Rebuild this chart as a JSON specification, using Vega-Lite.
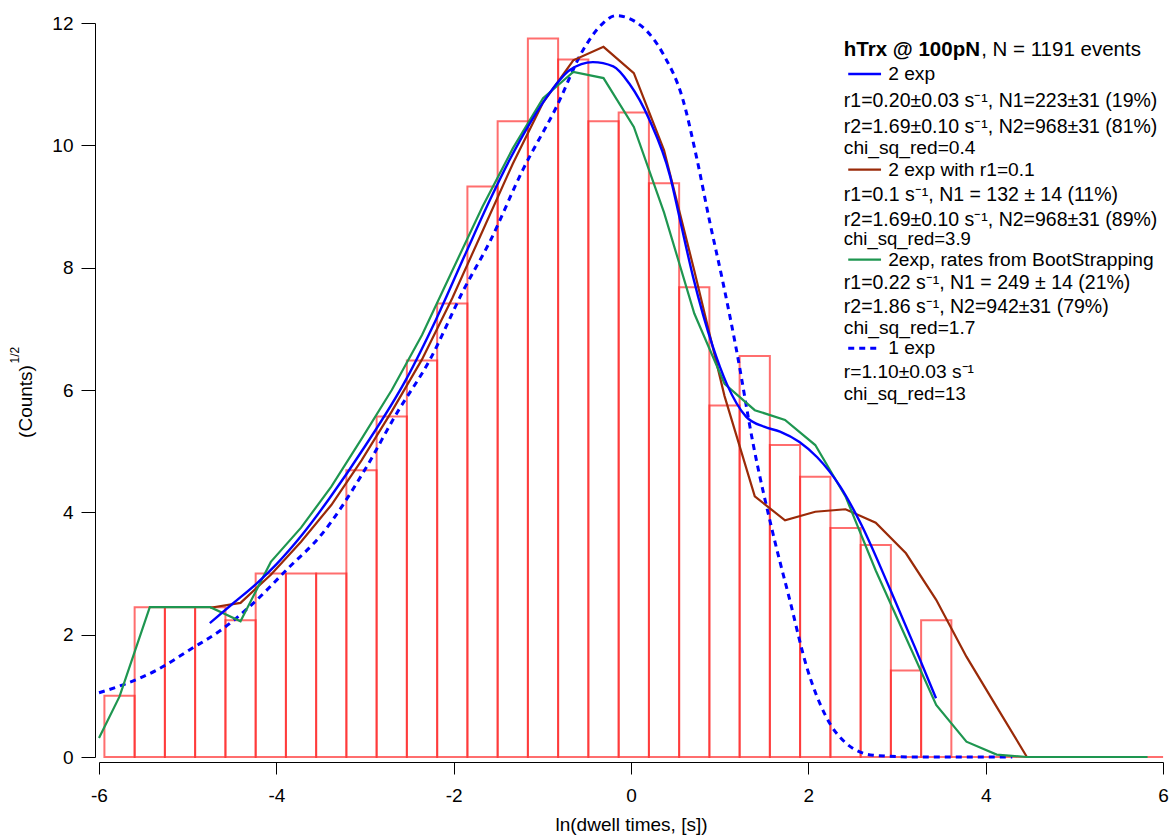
{
  "$schema": "https://vega.github.io/schema/vega-lite/v6.json",
  "autosize": {"type": "none"},
  "padding": {"left": 99, "top": 23, "right": 11, "bottom": 81},
  "width": 1064,
  "height": 734,
  "background": "white",
  "config": {"view": {"stroke": null}, "font": "Liberation Sans"},
  "datasets": {
    "one": [{}],
    "bars": [
      {"x": -5.939, "x2": -5.598, "y": 1.0},
      {"x": -5.598, "x2": -5.257, "y": 2.449},
      {"x": -5.257, "x2": -4.916, "y": 2.449},
      {"x": -4.916, "x2": -4.574, "y": 2.449},
      {"x": -4.574, "x2": -4.233, "y": 2.236},
      {"x": -4.233, "x2": -3.892, "y": 3.0},
      {"x": -3.892, "x2": -3.551, "y": 3.0},
      {"x": -3.551, "x2": -3.210, "y": 3.0},
      {"x": -3.210, "x2": -2.869, "y": 4.69},
      {"x": -2.869, "x2": -2.528, "y": 5.568},
      {"x": -2.528, "x2": -2.186, "y": 6.481},
      {"x": -2.186, "x2": -1.845, "y": 7.416},
      {"x": -1.845, "x2": -1.504, "y": 9.327},
      {"x": -1.504, "x2": -1.163, "y": 10.392},
      {"x": -1.163, "x2": -0.822, "y": 11.747},
      {"x": -0.822, "x2": -0.481, "y": 11.402},
      {"x": -0.481, "x2": -0.139, "y": 10.392},
      {"x": -0.139, "x2": 0.202, "y": 10.536},
      {"x": 0.202, "x2": 0.543, "y": 9.381},
      {"x": 0.543, "x2": 0.884, "y": 7.681},
      {"x": 0.884, "x2": 1.225, "y": 5.745},
      {"x": 1.225, "x2": 1.566, "y": 6.557},
      {"x": 1.566, "x2": 1.907, "y": 5.099},
      {"x": 1.907, "x2": 2.249, "y": 4.583},
      {"x": 2.249, "x2": 2.590, "y": 3.742},
      {"x": 2.590, "x2": 2.931, "y": 3.464},
      {"x": 2.931, "x2": 3.272, "y": 1.414},
      {"x": 3.272, "x2": 3.613, "y": 2.236},
      {"x": 3.613, "x2": 3.954, "y": 0},
      {"x": 3.954, "x2": 4.296, "y": 0},
      {"x": 4.296, "x2": 4.637, "y": 0},
      {"x": 4.637, "x2": 4.978, "y": 0},
      {"x": 4.978, "x2": 5.319, "y": 0},
      {"x": 5.319, "x2": 5.660, "y": 0},
      {"x": 5.660, "x2": 6.001, "y": 0}
    ],
    "twoexp": [
      {"x": -4.75, "y": 2.19}, {"x": -4.49, "y": 2.51}, {"x": -4.22, "y": 2.84},
      {"x": -4.0, "y": 3.15}, {"x": -3.7, "y": 3.65}, {"x": -3.4, "y": 4.23},
      {"x": -3.0, "y": 5.08}, {"x": -2.53, "y": 6.19}, {"x": -2.2, "y": 7.15},
      {"x": -1.86, "y": 8.25}, {"x": -1.59, "y": 9.11}, {"x": -1.37, "y": 9.76},
      {"x": -1.14, "y": 10.36}, {"x": -0.92, "y": 10.85}, {"x": -0.69, "y": 11.23},
      {"x": -0.43, "y": 11.36}, {"x": -0.2, "y": 11.29}, {"x": -0.02, "y": 11.01},
      {"x": 0.21, "y": 10.41}, {"x": 0.44, "y": 9.5}, {"x": 0.55, "y": 8.8},
      {"x": 0.7, "y": 7.85}, {"x": 0.925, "y": 6.7}, {"x": 1.08, "y": 6.1},
      {"x": 1.3, "y": 5.56}, {"x": 1.5, "y": 5.4}, {"x": 1.68, "y": 5.32},
      {"x": 1.9, "y": 5.15}, {"x": 2.1, "y": 4.9}, {"x": 2.36, "y": 4.42},
      {"x": 2.58, "y": 3.85}, {"x": 2.92, "y": 2.75}, {"x": 3.2, "y": 1.8},
      {"x": 3.44, "y": 0.96}
    ],
    "fixed": [
      {"x": -4.745, "y": 2.44}, {"x": -4.404, "y": 2.52}, {"x": -4.062, "y": 2.98},
      {"x": -3.721, "y": 3.52}, {"x": -3.38, "y": 4.12}, {"x": -3.039, "y": 4.85},
      {"x": -2.698, "y": 5.65}, {"x": -2.357, "y": 6.5}, {"x": -2.016, "y": 7.5},
      {"x": -1.674, "y": 8.6}, {"x": -1.333, "y": 9.7}, {"x": -0.992, "y": 10.7},
      {"x": -0.651, "y": 11.39}, {"x": -0.31, "y": 11.61}, {"x": 0.032, "y": 11.18},
      {"x": 0.373, "y": 9.92}, {"x": 0.714, "y": 7.95}, {"x": 1.055, "y": 5.9},
      {"x": 1.396, "y": 4.26}, {"x": 1.737, "y": 3.87}, {"x": 2.078, "y": 4.01},
      {"x": 2.419, "y": 4.05}, {"x": 2.76, "y": 3.83}, {"x": 3.101, "y": 3.33},
      {"x": 3.442, "y": 2.57}, {"x": 3.783, "y": 1.64}, {"x": 4.124, "y": 0.82},
      {"x": 4.465, "y": 0.0}
    ],
    "boot": [
      {"x": -6.0, "y": 0.31}, {"x": -5.768, "y": 0.99}, {"x": -5.427, "y": 2.45},
      {"x": -5.086, "y": 2.45}, {"x": -4.745, "y": 2.45}, {"x": -4.404, "y": 2.22},
      {"x": -4.062, "y": 3.19}, {"x": -3.721, "y": 3.75}, {"x": -3.38, "y": 4.42},
      {"x": -3.039, "y": 5.2}, {"x": -2.698, "y": 6.0}, {"x": -2.357, "y": 6.9},
      {"x": -2.016, "y": 7.95}, {"x": -1.674, "y": 9.0}, {"x": -1.333, "y": 9.95},
      {"x": -0.992, "y": 10.77}, {"x": -0.651, "y": 11.2}, {"x": -0.31, "y": 11.1},
      {"x": 0.032, "y": 10.3}, {"x": 0.373, "y": 8.9}, {"x": 0.714, "y": 7.25},
      {"x": 1.055, "y": 6.1}, {"x": 1.396, "y": 5.67}, {"x": 1.737, "y": 5.51},
      {"x": 2.078, "y": 5.1}, {"x": 2.419, "y": 4.26}, {"x": 2.76, "y": 3.05},
      {"x": 3.101, "y": 1.95}, {"x": 3.442, "y": 0.85}, {"x": 3.783, "y": 0.25},
      {"x": 4.124, "y": 0.04}, {"x": 4.465, "y": 0.0}, {"x": 4.806, "y": 0.0},
      {"x": 5.147, "y": 0.0}, {"x": 5.488, "y": 0.0}, {"x": 5.826, "y": 0.0}
    ],
    "oneexp": [
      {"x": -6.0, "y": 1.05}, {"x": -5.73, "y": 1.18}, {"x": -5.35, "y": 1.42},
      {"x": -4.98, "y": 1.75}, {"x": -4.6, "y": 2.1}, {"x": -4.3, "y": 2.46},
      {"x": -3.85, "y": 3.11}, {"x": -3.5, "y": 3.62}, {"x": -3.0, "y": 4.7},
      {"x": -2.65, "y": 5.6}, {"x": -2.27, "y": 6.49}, {"x": -1.89, "y": 7.63},
      {"x": -1.594, "y": 8.42}, {"x": -1.22, "y": 9.6}, {"x": -0.84, "y": 10.63},
      {"x": -0.54, "y": 11.56}, {"x": -0.32, "y": 11.99}, {"x": -0.17, "y": 12.12},
      {"x": 0.05, "y": 12.02}, {"x": 0.36, "y": 11.5}, {"x": 0.587, "y": 10.74},
      {"x": 0.74, "y": 9.8}, {"x": 0.888, "y": 8.75}, {"x": 1.04, "y": 7.74},
      {"x": 1.19, "y": 6.65}, {"x": 1.38, "y": 5.1}, {"x": 1.6, "y": 3.66},
      {"x": 1.79, "y": 2.57}, {"x": 1.98, "y": 1.48}, {"x": 2.2, "y": 0.66},
      {"x": 2.43, "y": 0.22}, {"x": 2.73, "y": 0.03}, {"x": 3.2, "y": 0.0},
      {"x": 4.3, "y": 0.0}
    ]
  },
  "layer": [
    {
      "data": {"name": "bars"},
      "mark": {"type": "rect", "fill": "white", "fillOpacity": 0, "stroke": "#ff2020", "strokeOpacity": 0.65, "strokeWidth": 2},
      "encoding": {
        "x": {
          "field": "x", "type": "quantitative",
          "scale": {"domain": [-6, 6], "nice": false, "zero": false},
          "axis": {
            "title": "ln(dwell times, [s])", "values": [-6, -4, -2, 0, 2, 4, 6],
            "labelExpr": "'' + datum.value", "offset": 5, "tickSize": 12, "labelPadding": 12,
            "domainColor": "#000", "tickColor": "#000", "labelColor": "#000", "titleColor": "#000",
            "labelFontSize": 19, "titleFontSize": 19, "titleFontWeight": "normal",
            "labelFont": "Liberation Sans", "titleFont": "Liberation Sans", "grid": false,
            "titlePadding": 10, "labelFlush": false
          }
        },
        "x2": {"field": "x2"},
        "y": {
          "field": "y", "type": "quantitative",
          "scale": {"domain": [0, 12], "nice": false},
          "axis": {
            "title": "(Counts)", "values": [0, 2, 4, 6, 8, 10, 12],
            "labelExpr": "'' + datum.value",
            "offset": 4, "tickSize": 14, "labelPadding": 8,
            "domainColor": "#000", "tickColor": "#000", "labelColor": "#000", "titleColor": "#000",
            "labelFontSize": 19, "titleFontSize": 19, "titleFontWeight": "normal",
            "labelFont": "Liberation Sans", "titleFont": "Liberation Sans", "grid": false,
            "titlePadding": 16, "titleY": 378
          }
        },
        "y2": {"datum": 0}
      }
    },
    {
      "data": {"name": "oneexp"},
      "mark": {"type": "line", "color": "#0000ff", "strokeWidth": 3, "strokeDash": [6, 5], "interpolate": "monotone"},
      "encoding": {"x": {"field": "x", "type": "quantitative"}, "y": {"field": "y", "type": "quantitative"}}
    },
    {
      "data": {"name": "fixed"},
      "mark": {"type": "line", "color": "#9a2a08", "strokeWidth": 2.2},
      "encoding": {"x": {"field": "x", "type": "quantitative"}, "y": {"field": "y", "type": "quantitative"}}
    },
    {
      "data": {"name": "boot"},
      "mark": {"type": "line", "color": "#1e9650", "strokeWidth": 2.2},
      "encoding": {"x": {"field": "x", "type": "quantitative"}, "y": {"field": "y", "type": "quantitative"}}
    },
    {
      "data": {"name": "twoexp"},
      "mark": {"type": "line", "color": "#0000ff", "strokeWidth": 2.4, "interpolate": "monotone"},
      "encoding": {"x": {"field": "x", "type": "quantitative"}, "y": {"field": "y", "type": "quantitative"}}
    },
    {
      "data": {"name": "one"},
      "mark": {"type": "text", "text": "1/2", "angle": 270, "fontSize": 12, "font": "Liberation Sans", "color": "#000", "align": "center", "baseline": "middle"},
      "encoding": {"x": {"datum": -6.95}, "y": {"datum": 6.57}}
    },
    {
      "data": {"name": "one"},
      "mark": {"type": "rule", "color": "#0000ff", "strokeWidth": 2.4},
      "encoding": {"x": {"datum": 2.45}, "x2": {"datum": 2.82}, "y": {"datum": 11.166}}
    },
    {
      "data": {"name": "one"},
      "mark": {"type": "rule", "color": "#9a2a08", "strokeWidth": 2.2},
      "encoding": {"x": {"datum": 2.45}, "x2": {"datum": 2.82}, "y": {"datum": 9.604}}
    },
    {
      "data": {"name": "one"},
      "mark": {"type": "rule", "color": "#1e9650", "strokeWidth": 2.2},
      "encoding": {"x": {"datum": 2.45}, "x2": {"datum": 2.82}, "y": {"datum": 8.13}}
    },
    {
      "data": {"name": "one"},
      "mark": {"type": "rule", "color": "#0000ff", "strokeWidth": 3, "strokeDash": [6, 5]},
      "encoding": {"x": {"datum": 2.45}, "x2": {"datum": 2.82}, "y": {"datum": 6.681}}
    },
    {
      "data": {"name": "one"},
      "mark": {"type": "text", "text": "hTrx @ 100pN", "fontWeight": "bold", "fontSize": 20.5, "font": "Liberation Sans", "color": "#000", "align": "left", "baseline": "middle"},
      "encoding": {"x": {"datum": 2.4}, "y": {"datum": 11.558}}
    },
    {
      "data": {"name": "one"},
      "mark": {"type": "text", "text": ", N = 1191 events", "fontSize": 20.5, "font": "Liberation Sans", "color": "#000", "align": "left", "baseline": "middle"},
      "encoding": {"x": {"datum": 3.949}, "y": {"datum": 11.558}}
    },
    {
      "data": {"name": "one"},
      "mark": {"type": "text", "text": "2 exp", "fontSize": 19.2, "font": "Liberation Sans", "color": "#000", "align": "left", "baseline": "middle"},
      "encoding": {"x": {"datum": 2.9}, "y": {"datum": 11.166}}
    },
    {
      "data": {"name": "one"},
      "mark": {"type": "text", "text": "r1=0.20±0.03 s⁻¹, N1=223±31 (19%)", "fontSize": 19.5, "font": "Liberation Sans", "color": "#000", "align": "left", "baseline": "middle"},
      "encoding": {"x": {"datum": 2.4}, "y": {"datum": 10.724}}
    },
    {
      "data": {"name": "one"},
      "mark": {"type": "text", "text": "r2=1.69±0.10 s⁻¹, N2=968±31 (81%)", "fontSize": 19.5, "font": "Liberation Sans", "color": "#000", "align": "left", "baseline": "middle"},
      "encoding": {"x": {"datum": 2.4}, "y": {"datum": 10.307}}
    },
    {
      "data": {"name": "one"},
      "mark": {"type": "text", "text": "chi_sq_red=0.4", "fontSize": 19.2, "font": "Liberation Sans", "color": "#000", "align": "left", "baseline": "middle"},
      "encoding": {"x": {"datum": 2.4}, "y": {"datum": 9.964}}
    },
    {
      "data": {"name": "one"},
      "mark": {"type": "text", "text": "2 exp with r1=0.1", "fontSize": 19.2, "font": "Liberation Sans", "color": "#000", "align": "left", "baseline": "middle"},
      "encoding": {"x": {"datum": 2.9}, "y": {"datum": 9.604}}
    },
    {
      "data": {"name": "one"},
      "mark": {"type": "text", "text": "r1=0.1 s⁻¹, N1 = 132 ± 14 (11%)", "fontSize": 19.5, "font": "Liberation Sans", "color": "#000", "align": "left", "baseline": "middle"},
      "encoding": {"x": {"datum": 2.4}, "y": {"datum": 9.196}}
    },
    {
      "data": {"name": "one"},
      "mark": {"type": "text", "text": "r2=1.69±0.10 s⁻¹, N2=968±31 (89%)", "fontSize": 19.5, "font": "Liberation Sans", "color": "#000", "align": "left", "baseline": "middle"},
      "encoding": {"x": {"datum": 2.4}, "y": {"datum": 8.787}}
    },
    {
      "data": {"name": "one"},
      "mark": {"type": "text", "text": "chi_sq_red=3.9", "fontSize": 18.5, "font": "Liberation Sans", "color": "#000", "align": "left", "baseline": "middle"},
      "encoding": {"x": {"datum": 2.4}, "y": {"datum": 8.465}}
    },
    {
      "data": {"name": "one"},
      "mark": {"type": "text", "text": "2exp, rates from BootStrapping", "fontSize": 19.2, "font": "Liberation Sans", "color": "#000", "align": "left", "baseline": "middle"},
      "encoding": {"x": {"datum": 2.9}, "y": {"datum": 8.13}}
    },
    {
      "data": {"name": "one"},
      "mark": {"type": "text", "text": "r1=0.22 s⁻¹, N1 = 249 ± 14 (21%)", "fontSize": 19.5, "font": "Liberation Sans", "color": "#000", "align": "left", "baseline": "middle"},
      "encoding": {"x": {"datum": 2.4}, "y": {"datum": 7.757}}
    },
    {
      "data": {"name": "one"},
      "mark": {"type": "text", "text": "r2=1.86 s⁻¹, N2=942±31 (79%)", "fontSize": 19.5, "font": "Liberation Sans", "color": "#000", "align": "left", "baseline": "middle"},
      "encoding": {"x": {"datum": 2.4}, "y": {"datum": 7.357}}
    },
    {
      "data": {"name": "one"},
      "mark": {"type": "text", "text": "chi_sq_red=1.7", "fontSize": 19.2, "font": "Liberation Sans", "color": "#000", "align": "left", "baseline": "middle"},
      "encoding": {"x": {"datum": 2.4}, "y": {"datum": 7.018}}
    },
    {
      "data": {"name": "one"},
      "mark": {"type": "text", "text": "1 exp", "fontSize": 19.2, "font": "Liberation Sans", "color": "#000", "align": "left", "baseline": "middle"},
      "encoding": {"x": {"datum": 2.9}, "y": {"datum": 6.681}}
    },
    {
      "data": {"name": "one"},
      "mark": {"type": "text", "text": "r=1.10±0.03 s⁻¹", "fontSize": 19.2, "font": "Liberation Sans", "color": "#000", "align": "left", "baseline": "middle"},
      "encoding": {"x": {"datum": 2.4}, "y": {"datum": 6.29}}
    },
    {
      "data": {"name": "one"},
      "mark": {"type": "text", "text": "chi_sq_red=13", "fontSize": 18.5, "font": "Liberation Sans", "color": "#000", "align": "left", "baseline": "middle"},
      "encoding": {"x": {"datum": 2.4}, "y": {"datum": 5.94}}
    }
  ]
}
